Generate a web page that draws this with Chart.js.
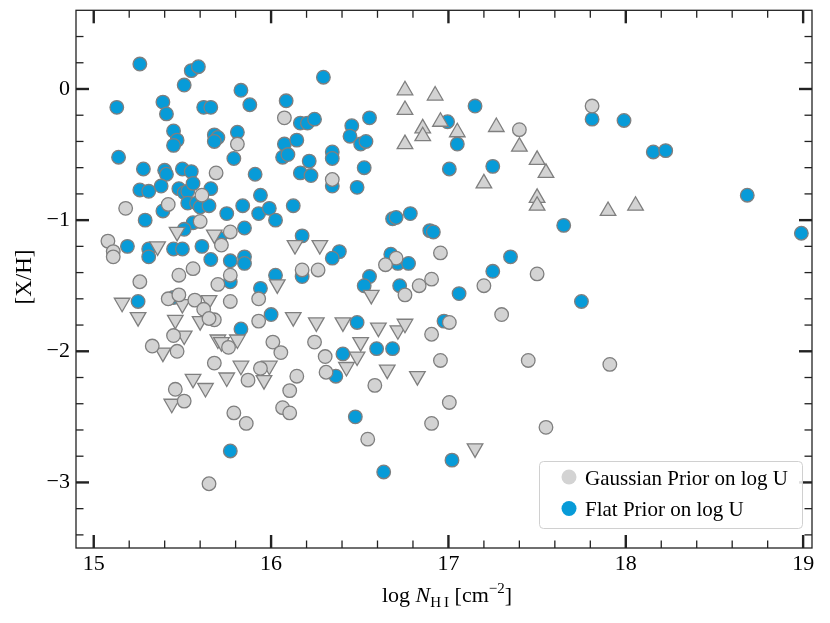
<!DOCTYPE html>
<html>
<head>
<meta charset="utf-8">
<script src="https://cdn.jsdelivr.net/npm/chart.js@4.4.1/dist/chart.umd.min.js"></script>
<style>
  html, body { margin: 0; padding: 0; background: #fff; }
  #wrap { width: 830px; height: 623px; }
</style>
</head>
<body>
<div id="wrap"><canvas id="chart" width="830" height="623"></canvas></div>
<script>
// axis ticks
const X_TICKS = [15, 16, 17, 18, 19];
const Y_TICKS = [-3, -2, -1, 0];

// Gaussian prior on log U: detections (circles)
const gaussianPoints = [
  [16.075, -0.22], [15.81, -0.42], [15.69, -0.64], [15.61, -0.81], [15.42, -0.88],
  [15.18, -0.91], [15.60, -1.01], [15.77, -1.09], [15.72, -1.19], [15.08, -1.16],
  [15.11, -1.24], [15.11, -1.28], [15.77, -1.42], [16.175, -1.38], [16.265, -1.38],
  [15.56, -1.37], [15.48, -1.42], [15.26, -1.47], [15.70, -1.49], [15.93, -1.60],
  [15.42, -1.60], [15.48, -1.57], [15.57, -1.61], [15.62, -1.68], [15.77, -1.62],
  [15.68, -1.76], [15.65, -1.75], [15.93, -1.77], [15.45, -1.88], [15.33, -1.96],
  [15.47, -2.00], [15.76, -1.97], [16.01, -1.93], [16.055, -2.01], [16.245, -1.93],
  [16.305, -2.04], [16.31, -2.16], [15.68, -2.09], [15.94, -2.13], [15.87, -2.22],
  [16.145, -2.19], [16.105, -2.30], [15.46, -2.29], [15.51, -2.38], [16.065, -2.43],
  [16.105, -2.47], [15.79, -2.47], [15.86, -2.55], [15.65, -3.01],
  [17.40, -0.31], [16.345, -0.69], [16.705, -1.29], [16.645, -1.34], [16.835, -1.50],
  [16.905, -1.45], [16.755, -1.57], [16.955, -1.25], [17.50, -1.41], [17.20, -1.50],
  [17.30, -1.72], [17.005, -1.78], [16.905, -1.87], [16.955, -2.07], [17.45, -2.07],
  [16.585, -2.26], [17.005, -2.39], [16.905, -2.55], [16.545, -2.67], [17.55, -2.58],
  [17.81, -0.13], [17.91, -2.10]
];

// Gaussian prior: lower limits (up triangles)
const gaussianLower = [
  [16.755, -0.01], [16.925, -0.05], [16.755, -0.16], [16.955, -0.25], [16.855, -0.30],
  [16.855, -0.36], [17.05, -0.33], [16.755, -0.42], [17.27, -0.29], [17.40, -0.44],
  [17.50, -0.54], [17.55, -0.64], [17.20, -0.72], [17.50, -0.83], [17.50, -0.89],
  [17.90, -0.93], [18.055, -0.89]
];

// Gaussian prior: upper limits (down triangles)
const gaussianUpper = [
  [15.47, -1.09], [15.68, -1.11], [16.135, -1.19], [16.275, -1.19], [15.36, -1.20],
  [16.035, -1.49], [15.16, -1.63], [15.25, -1.74], [15.50, -1.64], [15.65, -1.61],
  [15.46, -1.76], [15.60, -1.77], [16.125, -1.74], [16.255, -1.78], [15.51, -1.88],
  [15.39, -2.01], [15.70, -1.91], [15.72, -1.93], [15.81, -1.91], [15.83, -2.11],
  [15.99, -2.11], [15.96, -2.22], [15.75, -2.20], [15.56, -2.21], [15.63, -2.28],
  [15.44, -2.40], [16.565, -1.57], [16.405, -1.78], [16.605, -1.82], [16.715, -1.84],
  [16.755, -1.79], [16.505, -1.93], [16.485, -2.04], [16.425, -2.12], [16.655, -2.14],
  [16.825, -2.19], [17.15, -2.74]
];

// Flat prior on log U
const flatPoints = [
  [15.26, 0.19], [15.55, 0.14], [15.59, 0.17], [15.51, 0.03], [15.83, -0.01],
  [15.88, -0.12], [16.085, -0.09], [15.13, -0.14], [15.39, -0.10], [15.41, -0.19],
  [15.62, -0.14], [15.66, -0.14], [16.165, -0.26], [16.205, -0.26], [16.245, -0.23],
  [16.295, 0.09], [15.45, -0.32], [15.47, -0.39], [15.45, -0.43], [15.68, -0.35],
  [15.70, -0.37], [15.68, -0.40], [15.81, -0.33], [15.79, -0.53], [15.14, -0.52],
  [16.075, -0.42], [16.145, -0.39], [16.065, -0.52], [16.095, -0.50], [16.215, -0.55],
  [16.165, -0.64], [16.225, -0.66], [15.28, -0.61], [15.40, -0.62], [15.41, -0.65],
  [15.50, -0.61], [15.55, -0.63], [15.91, -0.65], [15.26, -0.77], [15.31, -0.78],
  [15.38, -0.74], [15.48, -0.76], [15.51, -0.79], [15.53, -0.78], [15.56, -0.72],
  [15.66, -0.76], [15.53, -0.87], [15.58, -0.87], [15.60, -0.90], [15.65, -0.89],
  [15.94, -0.81], [15.84, -0.89], [15.93, -0.95], [15.99, -0.91], [16.025, -1.00],
  [16.125, -0.89], [15.39, -0.93], [15.29, -1.00], [15.75, -0.95], [15.56, -1.02],
  [15.51, -1.07], [15.85, -1.06], [15.71, -1.14], [16.175, -1.12], [15.19, -1.20],
  [15.31, -1.22], [15.31, -1.28], [15.45, -1.22], [15.50, -1.22], [15.61, -1.20],
  [15.66, -1.30], [15.77, -1.31], [15.85, -1.28], [15.85, -1.33], [16.025, -1.42],
  [16.175, -1.43], [15.77, -1.47], [15.94, -1.52], [15.25, -1.62], [15.45, -1.59],
  [16.00, -1.72], [15.83, -1.83], [15.77, -2.76],
  [17.15, -0.13], [16.995, -0.25], [17.05, -0.42], [17.005, -0.61], [17.25, -0.59],
  [16.455, -0.28], [16.555, -0.22], [16.445, -0.36], [16.505, -0.42], [16.535, -0.40],
  [16.345, -0.48], [16.345, -0.53], [16.525, -0.60], [16.345, -0.74], [16.485, -0.75],
  [16.685, -0.99], [16.705, -0.98], [16.785, -0.95], [16.895, -1.08], [16.915, -1.09],
  [17.35, -1.28], [17.25, -1.39], [17.06, -1.56], [16.385, -1.24], [16.345, -1.29],
  [16.675, -1.26], [16.715, -1.33], [16.775, -1.33], [16.555, -1.43], [16.525, -1.50],
  [16.725, -1.50], [16.485, -1.78], [16.975, -1.77], [16.405, -2.02], [16.595, -1.98],
  [16.685, -1.98], [16.365, -2.19], [16.475, -2.50], [16.635, -2.92], [17.02, -2.83],
  [17.81, -0.23], [17.99, -0.24], [18.155, -0.48], [18.225, -0.47], [17.65, -1.04],
  [18.685, -0.81], [18.99, -1.10], [17.75, -1.62]
];

const GRAY = '#d3d3d3';
const BLUE = '#079bd8';
const EDGE = '#7f7f7f';
const SERIF = "'Liberation Serif', 'DejaVu Serif', serif";

function series(points, style, rotation, fill, radius) {
  return {
    data: points.map(([x, y]) => ({ x, y })),
    pointStyle: style,
    rotation: rotation,
    backgroundColor: fill,
    borderColor: EDGE,
    borderWidth: 1.3,
    pointRadius: radius,
    pointHoverRadius: radius
  };
}

const fmt = v => (v < 0 ? '\u2212' + Math.abs(v) : String(v));

// frame + inward ticks on all four sides
const frameTicks = {
  id: 'frameTicks',
  afterDatasetsDraw(chart) {
    const { ctx, chartArea: a, scales: { x, y } } = chart;
    ctx.save();
    ctx.strokeStyle = '#222';
    const line = (x1, y1, x2, y2, w) => {
      ctx.lineWidth = w;
      ctx.beginPath(); ctx.moveTo(x1, y1); ctx.lineTo(x2, y2); ctx.stroke();
    };
    for (let i = 74; i <= 95; i++) {
      const v = i / 5;
      if (v < x.min || v > x.max) continue;
      const px = x.getPixelForValue(v);
      const major = i % 5 === 0;
      const len = major ? 13 : 7.5;
      const w = major ? 2.4 : 1.3;
      line(px, a.bottom, px, a.bottom - len, w);
      line(px, a.top, px, a.top + len, w);
    }
    for (let i = -17; i <= 3; i++) {
      const v = i / 5;
      if (v <= y.min || v >= y.max) continue;
      const py = y.getPixelForValue(v);
      const major = i % 5 === 0;
      const len = major ? 13 : 7.5;
      const w = major ? 2.4 : 1.3;
      line(a.left, py, a.left + len, py, w);
      line(a.right, py, a.right - len, py, w);
    }
    ctx.lineWidth = 1.3;
    ctx.strokeRect(a.left, a.top, a.right - a.left, a.bottom - a.top);
    ctx.restore();
  }
};

// axis titles with sub/superscripts
const titles = {
  id: 'titles',
  afterDraw(chart) {
    const { ctx, chartArea: a } = chart;
    ctx.save();
    ctx.fillStyle = '#000';
    ctx.textBaseline = 'alphabetic';
    const parts = [
      { t: 'log ', f: '22px ' + SERIF, dy: 0 },
      { t: 'N', f: 'italic 22px ' + SERIF, dy: 0 },
      { t: 'H\u2009I', f: '15px ' + SERIF, dy: 4.5 },
      { t: ' [cm', f: '22px ' + SERIF, dy: 0 },
      { t: '\u22122', f: '15px ' + SERIF, dy: -9 },
      { t: ']', f: '22px ' + SERIF, dy: 0 }
    ];
    let total = 0;
    parts.forEach(p => { ctx.font = p.f; p.w = ctx.measureText(p.t).width; total += p.w; });
    let cx = (a.left + a.right) / 2 + 3 - total / 2;
    const base = 602;
    parts.forEach(p => { ctx.font = p.f; ctx.fillText(p.t, cx, base + p.dy); cx += p.w; });

    ctx.translate(31, 277);
    ctx.rotate(-Math.PI / 2);
    ctx.font = '23px ' + SERIF;
    ctx.textAlign = 'center';
    ctx.fillText('[X/H]', 0, 0);
    ctx.restore();
  }
};

// legend box in the lower right of the plot area
const legendBox = {
  id: 'legendBox',
  afterDraw(chart) {
    const { ctx, chartArea: a } = chart;
    const right = a.right - 10, bottom = a.bottom - 20;
    const w = 263, h = 67;
    const left = right - w, top = bottom - h;
    ctx.save();
    ctx.fillStyle = 'rgba(255,255,255,0.85)';
    ctx.strokeStyle = '#d0d0d0';
    ctx.lineWidth = 1;
    ctx.beginPath();
    ctx.roundRect(left + 0.5, top + 0.5, w, h, 4);
    ctx.fill();
    ctx.stroke();
    const items = [
      { label: 'Gaussian Prior on log U', color: GRAY },
      { label: 'Flat Prior on log U', color: BLUE }
    ];
    ctx.font = '21px ' + SERIF;
    ctx.textBaseline = 'alphabetic';
    items.forEach((it, i) => {
      const cy = top + 16 + i * 31.5;
      ctx.fillStyle = it.color;
      ctx.beginPath();
      ctx.arc(left + 30, cy, 7.5, 0, Math.PI * 2);
      ctx.fill();
      ctx.fillStyle = '#000';
      ctx.fillText(it.label, left + 46, cy + 7.5);
    });
    ctx.restore();
  }
};

const tickFont = { family: SERIF, size: 22 };
// keep Chart.js from reserving label overhang outside the plot frame
const noOverhang = s => { s.paddingTop = 0; s.paddingBottom = 0; s.paddingLeft = 0; s.paddingRight = 0; };

new Chart(document.getElementById('chart'), {
  type: 'scatter',
  data: {
    datasets: [
      series(gaussianPoints, 'circle', 0, GRAY, 6.8),
      series(gaussianLower, 'triangle', 0, GRAY, 9),
      series(gaussianUpper, 'triangle', 180, GRAY, 9),
      series(flatPoints, 'circle', 0, BLUE, 6.8)
    ]
  },
  options: {
    responsive: false,
    animation: false,
    devicePixelRatio: 1,
    layout: { padding: { top: 8, right: 18, left: 0, bottom: 0 } },
    plugins: { legend: { display: false }, tooltip: { enabled: false } },
    scales: {
      x: {
        type: 'linear',
        min: 14.9,
        max: 19.05,
        grid: { display: false, drawTicks: false },
        border: { display: false },
        afterBuildTicks: s => { s.ticks = X_TICKS.map(v => ({ value: v })); },
        afterFit: s => { s.height = 75; noOverhang(s); },
        ticks: { font: tickFont, color: '#000', padding: 3, maxRotation: 0, callback: fmt }
      },
      y: {
        type: 'linear',
        min: -3.5,
        max: 0.6,
        grid: { display: false, drawTicks: false },
        border: { display: false },
        afterBuildTicks: s => { s.ticks = Y_TICKS.map(v => ({ value: v })); },
        afterFit: s => { s.width = 76; noOverhang(s); },
        ticks: { font: tickFont, color: '#000', padding: 6, callback: fmt }
      }
    }
  },
  plugins: [frameTicks, titles, legendBox]
});
</script>
</body>
</html>
